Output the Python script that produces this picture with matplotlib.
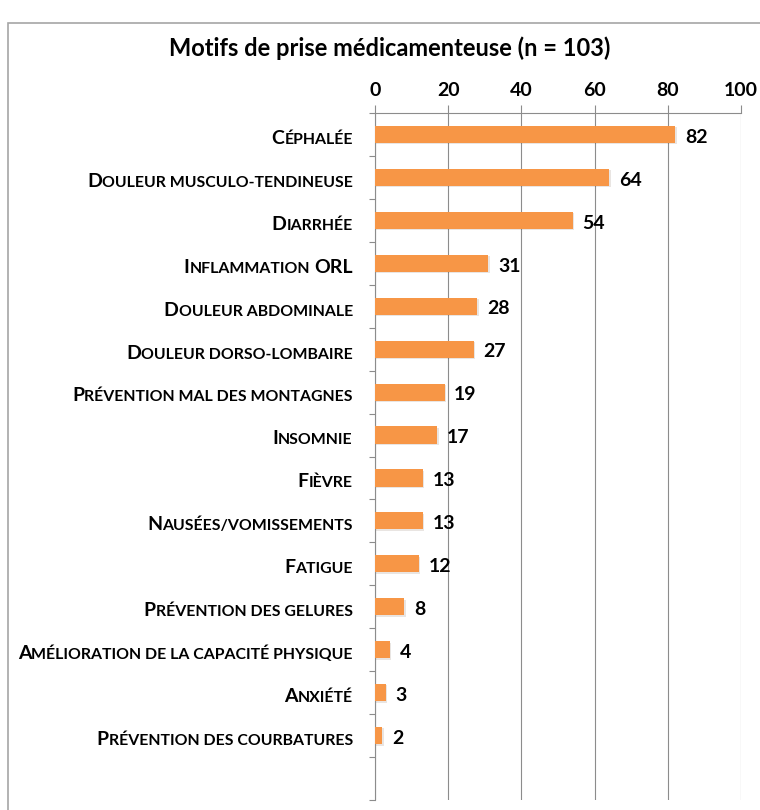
import matplotlib
matplotlib.use('Agg')
import numpy as np
import matplotlib.pyplot as plt
from matplotlib.transforms import blended_transform_factory, ScaledTranslation
from matplotlib.patches import Rectangle
import matplotlib.patheffects as pe

title = "Motifs de prise médicamenteuse (n = 103)"
categories = [
    "Céphalée",
    "Douleur musculo-tendineuse",
    "Diarrhée",
    "Inflammation ORL",
    "Douleur abdominale",
    "Douleur dorso-lombaire",
    "Prévention mal des montagnes",
    "Insomnie",
    "Fièvre",
    "Nausées/vomissements",
    "Fatigue",
    "Prévention des gelures",
    "Amélioration de la capacité physique",
    "Anxiété",
    "Prévention des courbatures",
]
values = [82, 64, 54, 31, 28, 27, 19, 17, 13, 13, 12, 8, 4, 3, 2]
xticks = [0, 20, 40, 60, 80, 100]

LABEL_FONT = ['Lato', 'DejaVu Sans']
NUM_FONT = ['Lato', 'DejaVu Sans']
BAR_COLOR = '#F79646'
GRID_COLOR = '#8c8c8c'

W, H = 760, 810
fig = plt.figure(figsize=(W / 100, H / 100), dpi=100)

# outer frame
fig.patches.append(Rectangle((8 / W, -0.1), 1.0, (1 - 23 / H) + 0.1,
                             transform=fig.transFigure, fill=False,
                             ec='#a6a6a6', lw=1.2))

ax = fig.add_axes([375 / W, 10 / H, 366 / W, 687 / H])

n = len(categories)
ypos = np.arange(n)
bars = ax.barh(ypos, values, height=0.4, color=BAR_COLOR, zorder=3)
for b in bars:
    b.set_path_effects([pe.SimplePatchShadow(offset=(1.0, -1.0), alpha=0.12),
                        pe.Normal()])

ax.set_xlim(0, 100)
ax.set_ylim(n + 0.5, -0.5)  # one empty slot at the bottom

ax.xaxis.tick_top()
ax.set_xticks(xticks)
ax.set_xticklabels([str(t) for t in xticks], fontsize=14, fontweight='bold',
                   family=NUM_FONT)
ax.tick_params(axis='x', which='major', length=6, width=0.8, color=GRID_COLOR, pad=4)
ax.grid(axis='x', color=GRID_COLOR, lw=0.8, zorder=0)

ax.set_yticks([])
ax.set_yticks(np.arange(-0.5, n + 1.5, 1), minor=True)
ax.tick_params(axis='y', which='minor', length=4, width=0.8, color=GRID_COLOR,
               direction='out', labelleft=False)

for s in ['right', 'bottom']:
    ax.spines[s].set_visible(False)
for s in ['top', 'left']:
    ax.spines[s].set_color(GRID_COLOR)
    ax.spines[s].set_linewidth(0.8)

for y, v in zip(ypos, values):
    ax.annotate(str(v), (v, y), xytext=(7, -2), textcoords='offset points',
                va='center', ha='left', fontsize=14, fontweight='bold',
                family=NUM_FONT)

fig.text(390 / W, 1 - 48 / H, title, ha='center', va='center', fontsize=17,
         fontweight='bold', family=NUM_FONT)

# small caps labels
BIG, SMALL = 14.0, 11.4
PAD = 16  # points
renderer = fig.canvas.get_renderer()
base = blended_transform_factory(ax.transAxes, ax.transData)


def runs_of(s):
    runs = []
    for ch in s:
        big = ch.isupper()
        if ch in ' -/':
            big = False
        up = ch.upper()
        if runs and runs[-1][1] == big:
            runs[-1][0] += up
        else:
            runs.append([up, big])
    return runs


for y, lab in zip(ypos, categories):
    acc = PAD
    for txt, big in reversed(runs_of(lab)):
        size = BIG if big else SMALL
        space_w = 0.26 * size
        trail = len(txt) - len(txt.rstrip())
        lead = len(txt) - len(txt.lstrip())
        acc += trail * space_w
        t = txt.strip()
        if t:
            tr = base + ScaledTranslation(-acc / 72, -(0.34 * BIG + 2) / 72, fig.dpi_scale_trans)
            tobj = ax.text(0, y, t, transform=tr, ha='right', va='baseline',
                           fontsize=size, fontweight='bold', family=LABEL_FONT,
                           clip_on=False)
            w = tobj.get_window_extent(renderer).width * 72 / fig.dpi
            acc += w
        acc += lead * space_w

fig.savefig('out.png', dpi=100)
